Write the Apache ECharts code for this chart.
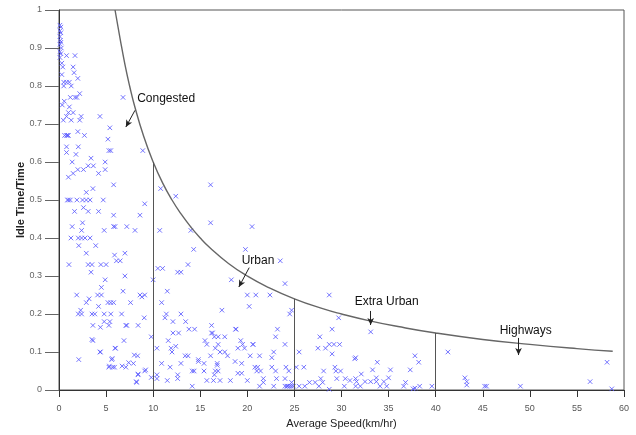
<!DOCTYPE html>
<html><head><meta charset="utf-8">
<script src="https://cdn.jsdelivr.net/npm/echarts@6/dist/echarts.min.js"></script>
<style>html,body{margin:0;padding:0;background:#fff}#c{width:636px;height:435px}</style>
</head><body><div id="c"></div>
<script>
// Scatter values: average speed (km/hr) and idle time ratio
const speed = [
0.1,0.2,0.1,0.2,0.1,0.15,0.2,0.1,0.25,0.1,0.2,0.1,0.8,1.7,0.3,0.4,1.5,1.6,0.3,2.0,0.5,0.8,1.1,0.5,1.3,2.2,1.2,1.7,1.9,0.56,0.35,1.1,1.0,0.8,1.5,0.46,1.3,2.2,2.35,4.35,5.4,6.8,0.6,0.8,1.0,2.0,2.7,5.2,0.8,0.8,2.05,5.3,5.5,8.9,1.8,3.4,4.9,1.4,3.1,3.65,1.5,2.0,2.6,4.9,4.2,1.0,5.8,2.9,3.6,
0.9,1.0,1.2,2.5,2.9,3.3,4.7,2.6,1.65,3.1,4.2,9.1,5.8,8.6,2.5,1.4,2.4,4.8,5.8,5.95,7.2,8.07,1.27,2.05,2.4,2.76,3.3,2.1,3.9,2.9,5.9,6.1,6.5,7.0,1.06,3.1,3.5,4.45,5.0,3.4,7.0,4.9,4.5,1.88,4.1,4.5,3.2,2.9,5.2,5.5,5.8,4.2,2.3,2.05,2.4,3.5,3.8,4.8,5.5,6.65,4.8,3.6,5.3,4.4,7.1,3.6,3.5,4.35,2.1,5.6,5.3,5.7,
6.8,8.6,8.8,9.1,7.6,9.05,5.4,7.2,8.4,9.8,6.9,5.95,5.65,8.35,7.9,5.9,7.1,8.4,9.1,8.25,9.8,4.4,6.0,5.35,6.7,7.4,8.0,9.2,8.4,8.2,0.9,1.9,
10.8,12.4,16.1,16.1,10.7,14.0,20.5,14.3,19.8,10.5,11.0,12.6,12.95,13.7,10.0,18.3,20.0,11.5,10.9,17.3,11.4,11.25,12.95,12.1,13.45,16.2,13.8,14.4,18.75,12.1,12.7,16.3,16.5,16.9,17.6,11.6,15.5,15.7,16.9,19.3,19.5,19.0,19.7,20.6,10.4,11.9,12.4,12.0,16.6,17.1,17.6,17.9,13.4,13.7,16.1,14.8,14.8,10.9,12.95,15.4,16.8,16.8,18.7,19.4,11.8,14.15,14.35,16.6,16.9,15.4,19.0,19.4,10.4,10.4,12.6,12.6,11.5,15.7,16.4,17.1,18.2,20.0,14.15,16.5,18.8,16.2,
23.5,24.0,20.9,22.4,28.7,20.2,24.5,24.7,29.7,23.2,23.0,29.0,27.7,20.6,24.0,25.5,27.5,28.3,28.7,29.2,29.8,22.8,21.3,22.6,20.3,31.5,29.0,20.8,21.1,21.4,21.0,22.6,23.0,24.1,24.4,25.2,26.0,28.1,29.3,29.4,29.9,21.7,23.1,21.7,24.0,24.7,27.8,28.0,29.5,30.4,30.9,31.5,21.3,22.8,24.0,24.2,24.3,24.5,24.7,24.9,25.5,26.1,26.6,27.2,27.6,28.7,30.3,31.5,
33.1,41.3,58.2,37.8,38.2,31.4,33.8,32.1,33.3,35.2,37.3,31.6,32.5,33.1,33.7,33.7,34.5,35.0,43.1,43.3,43.3,56.4,32.0,34.1,34.8,36.6,37.8,38.3,39.6,37.6,45.2,45.4,49.0,58.7,36.8
];
const idle = [
0.96,0.955,0.945,0.94,0.93,0.92,0.915,0.91,0.9,0.89,0.885,0.875,0.88,0.88,0.86,0.85,0.85,0.835,0.83,0.82,0.81,0.81,0.81,0.80,0.80,0.78,0.77,0.77,0.77,0.76,0.75,0.745,0.73,0.72,0.73,0.71,0.71,0.71,0.72,0.72,0.69,0.77,0.67,0.67,0.67,0.68,0.67,0.66,0.64,0.625,0.64,0.63,0.63,0.63,0.62,0.61,0.60,0.60,0.59,0.59,0.57,0.58,0.58,0.58,0.57,0.56,0.54,0.52,0.53,
0.5,0.5,0.5,0.5,0.5,0.5,0.5,0.48,0.47,0.47,0.47,0.49,0.46,0.46,0.44,0.43,0.42,0.42,0.43,0.43,0.43,0.42,0.40,0.40,0.40,0.40,0.40,0.38,0.38,0.36,0.355,0.34,0.34,0.36,0.33,0.33,0.33,0.33,0.33,0.31,0.30,0.29,0.27,0.25,0.25,0.25,0.24,0.23,0.23,0.23,0.23,0.22,0.21,0.20,0.20,0.20,0.20,0.20,0.20,0.20,0.18,0.17,0.17,0.165,0.17,0.13,0.133,0.10,0.08,0.08,0.06,0.06,
0.26,0.25,0.245,0.25,0.23,0.19,0.18,0.17,0.17,0.14,0.13,0.11,0.083,0.09,0.07,0.06,0.06,0.04,0.05,0.02,0.033,0.10,0.11,0.063,0.063,0.072,0.092,0.053,0.042,0.022,0.67,0.5,
0.53,0.51,0.54,0.44,0.42,0.42,0.43,0.37,0.37,0.32,0.32,0.31,0.31,0.33,0.29,0.29,0.25,0.26,0.23,0.21,0.20,0.19,0.20,0.18,0.18,0.17,0.16,0.16,0.16,0.15,0.15,0.15,0.14,0.14,0.14,0.13,0.13,0.12,0.12,0.13,0.12,0.11,0.11,0.12,0.11,0.11,0.115,0.10,0.11,0.10,0.10,0.09,0.09,0.09,0.09,0.08,0.075,0.07,0.07,0.07,0.07,0.065,0.075,0.07,0.06,0.05,0.05,0.05,0.05,0.05,0.044,0.044,0.04,0.03,0.04,0.03,0.025,0.025,0.025,0.025,0.025,0.025,0.01,0.04,0.16,0.15,
0.34,0.28,0.25,0.25,0.25,0.22,0.20,0.21,0.19,0.16,0.14,0.16,0.14,0.12,0.12,0.10,0.11,0.11,0.12,0.12,0.12,0.10,0.09,0.085,0.09,0.085,0.095,0.06,0.06,0.05,0.05,0.06,0.05,0.06,0.05,0.06,0.06,0.05,0.06,0.05,0.05,0.03,0.03,0.02,0.03,0.02,0.03,0.02,0.03,0.03,0.025,0.03,0.01,0.01,0.01,0.01,0.01,0.01,0.01,0.01,0.01,0.01,0.02,0.02,0.01,0.002,0.01,0.01,
0.153,0.10,0.073,0.09,0.073,0.082,0.073,0.042,0.053,0.053,0.053,0.022,0.022,0.022,0.032,0.022,0.022,0.032,0.032,0.022,0.013,0.022,0.01,0.01,0.01,0.01,0.005,0.01,0.01,0.003,0.01,0.01,0.01,0.003,0.02
];
// Boundary curve
const curveX = [5.95,6.5,7,7.5,8,9,10,11,12,13,14,15,16,18,20,22,25,28,30,33,36,40,45,50,55,58.8];
const curveY = [1.0,0.923,0.857,0.8,0.75,0.667,0.6,0.545,0.5,0.462,0.429,0.4,0.375,0.333,0.3,0.273,0.24,0.214,0.2,0.182,0.167,0.15,0.133,0.12,0.109,0.102];
// Vertical divider lines
const dividerX = [10, 25, 40];
const dividerTop = [0.6, 0.24, 0.15];
// Annotations
const labelText = ['Congested','Urban','Extra Urban','Highways'];
const labelPos = [[8.3,0.765],[19.4,0.337],[31.4,0.229],[46.8,0.153]];
const arrowFrom = [[8.07,0.736],[20.2,0.322],[33.1,0.208],[48.8,0.137]];
const arrowTo = [[7.1,0.692],[19.1,0.271],[33.1,0.171],[48.8,0.092]];
const xTicks = [0,5,10,15,20,25,30,35,40,45,50,55,60];
const yTicks = [0,0.1,0.2,0.3,0.4,0.5,0.6,0.7,0.8,0.9,1];

const FONT = 'Liberation Sans, Arial, sans-serif';
const scatterData = speed.map((s,i)=>[s, idle[i]]);
const curveData = curveX.map((x,i)=>[x, curveY[i]]);
const chart = echarts.init(document.getElementById('c'), null, {renderer:'canvas'});
const markLines = dividerX.map((x,i)=>[{coord:[x,0]},{coord:[x,dividerTop[i]]}]);
const arrowLines = arrowFrom.map((f,i)=>[{coord:f},{coord:arrowTo[i]}]);
chart.setOption({
  animation:false,
  backgroundColor:'#fff',
  grid:{left:59,right:12,top:10,bottom:45,show:true,borderColor:'#555',borderWidth:1},
  xAxis:{type:'value',min:xTicks[0],max:xTicks[xTicks.length-1],interval:5,
    name:'Average Speed(km/hr)',nameLocation:'middle',nameGap:28,nameMoveOverlap:false,
    nameTextStyle:{fontFamily:FONT,fontSize:11,color:'#222'},
    axisLine:{show:true,onZero:false,lineStyle:{color:'#333',width:1}},
    axisTick:{show:true,inside:false,length:7,lineStyle:{color:'#333'}},
    axisLabel:{fontFamily:FONT,fontSize:9,color:'#555',margin:14},
    splitLine:{show:false}},
  yAxis:{type:'value',min:yTicks[0],max:yTicks[yTicks.length-1],interval:0.1,
    name:'Idle Time/Time',nameLocation:'middle',nameGap:33,nameRotate:90,nameMoveOverlap:false,
    nameTextStyle:{fontFamily:FONT,fontSize:11,color:'#222',fontWeight:'bold'},
    axisLine:{show:true,onZero:false,lineStyle:{color:'#333',width:1}},
    axisTick:{show:true,inside:false,length:14,lineStyle:{color:'#666'}},
    axisLabel:{fontFamily:FONT,fontSize:9,color:'#666',margin:17,
      formatter:v=>String(Math.round(v*10)/10)},
    splitLine:{show:false}},
  series:[
    {type:'scatter',data:scatterData,symbol:'path://M0 0L10 10M10 0L0 10',symbolSize:4.5,
      itemStyle:{color:'rgba(0,0,0,0)',borderColor:'#5c5cff',borderWidth:1,opacity:0.85},z:3},
    {type:'line',data:curveData,smooth:true,showSymbol:false,symbol:'none',
      lineStyle:{color:'#666',width:1.4},z:4,
      markLine:{silent:true,symbol:['none','none'],label:{show:false},
        lineStyle:{color:'#555',width:1,type:'solid'},data:markLines}},
    {type:'line',data:[],showSymbol:false,
      markLine:{silent:true,symbol:['none','arrow'],symbolSize:[5,7],label:{show:false},
        lineStyle:{color:'#222',width:1,type:'solid'},data:arrowLines},z:5}
  ]
});
const graphics = labelText.map((t,i)=>{
  const p = chart.convertToPixel({gridIndex:0}, labelPos[i]);
  return {type:'text',left:p[0],top:p[1]-7,z:10,
    style:{text:t,font:'12px '+FONT,fill:'#111'}};
});
chart.setOption({graphic:graphics});
</script></body></html>
